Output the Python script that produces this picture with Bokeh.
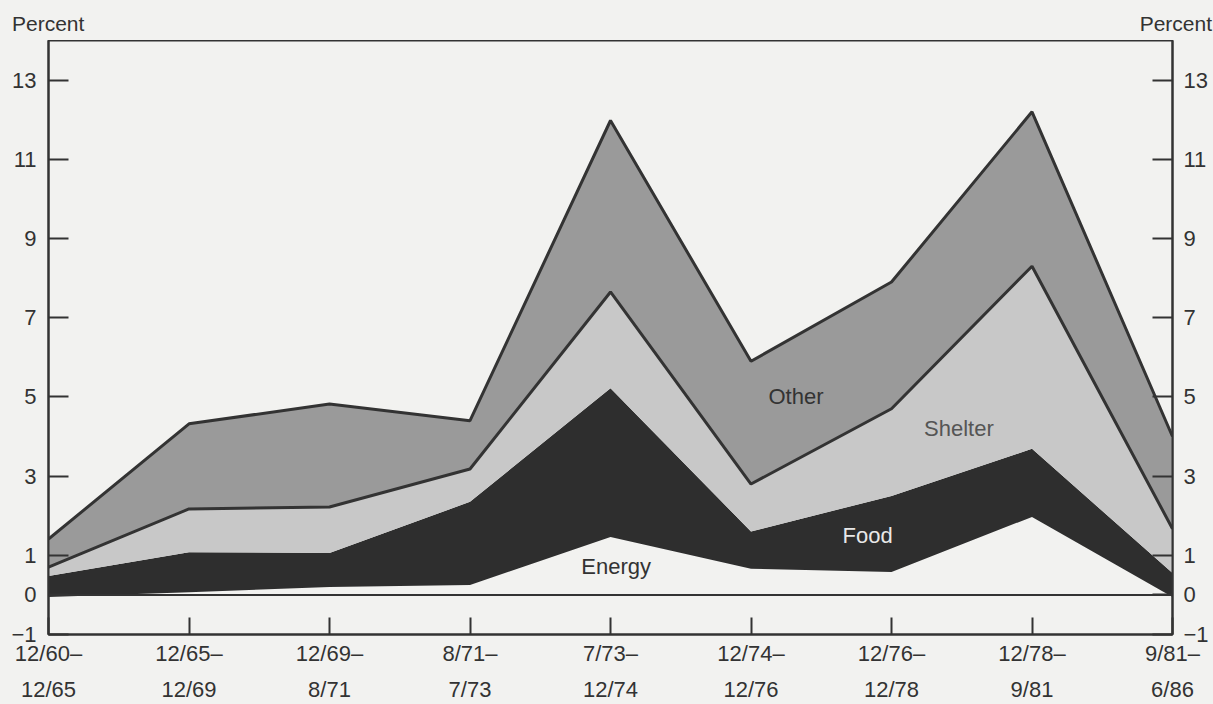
from bokeh.plotting import figure
from bokeh.layouts import column
from bokeh.models import Range1d, FixedTicker, LinearAxis, Label, Span, Div
from bokeh.embed import file_html
from bokeh.resources import INLINE
import numpy as np

# ---- data (contributions, percentage points) ----
period_start = ["12/60–", "12/65–", "12/69–", "8/71–", "7/73–", "12/74–", "12/76–", "12/78–", "9/81–"]
period_end = ["12/65", "12/69", "8/71", "7/73", "12/74", "12/76", "12/78", "9/81", "6/86"]
energy = [-0.05, 0.07, 0.20, 0.25, 1.46, 0.66, 0.58, 1.97, -0.05]
food = [0.53, 1.01, 0.86, 2.10, 3.76, 0.94, 1.92, 1.72, 0.60]
shelter = [0.22, 1.09, 1.16, 0.83, 2.43, 1.20, 2.20, 4.61, 1.12]
other = [0.71, 2.15, 2.60, 1.22, 4.33, 3.10, 3.20, 3.90, 2.33]
y_ticks = [-1, 0, 1, 3, 5, 7, 9, 11, 13]
y_tick_labels = ["−1", "0", "1", "3", "5", "7", "9", "11", "13"]
unit_label = "Percent"

BG = "#f2f2f0"
DARK = "#333333"
OTHER_C = "#9a9a9a"
SHELTER_C = "#c8c8c8"
FOOD_C = "#2e2e2e"
FONT = "Liberation Sans"
W, H, TOP_H = 1213, 704, 40

x = list(range(len(period_start)))
e_top = np.array(energy)
f_top = e_top + np.array(food)
s_top = f_top + np.array(shelter)
o_top = s_top + np.array(other)

# ---- header strip with the unit labels ----
span_style = ("position:absolute;top:14px;line-height:20px;font-size:21px;"
              "font-family:'Liberation Sans';color:%s;white-space:nowrap;" % DARK)
header = Div(
    text=('<div style="position:relative;width:%dpx;height:%dpx;background:%s;margin:0;">'
          '<span style="%sleft:12px;">%s</span>'
          '<span style="%sright:1px;">%s</span></div>')
    % (W, TOP_H, BG, span_style, unit_label, span_style, unit_label),
    width=W, height=TOP_H, margin=0,
    styles={"background-color": BG})

# ---- main chart ----
p = figure(width=W, height=H - TOP_H,
           x_range=Range1d(0, len(x) - 1), y_range=Range1d(-1, 14),
           output_backend="svg", toolbar_location=None,
           min_border_left=48, min_border_right=41, min_border_top=0, min_border_bottom=68,
           background_fill_color=BG, border_fill_color=BG,
           outline_line_color=DARK, outline_line_width=2, margin=0)
p.grid.visible = False

p.varea(x=x, y1=e_top, y2=f_top, fill_color=FOOD_C)
p.varea(x=x, y1=f_top, y2=s_top, fill_color=SHELTER_C)
p.varea(x=x, y1=s_top, y2=o_top, fill_color=OTHER_C)
p.line(x=x, y=s_top, line_color=DARK, line_width=3)
p.line(x=x, y=o_top, line_color=DARK, line_width=3)
p.add_layout(Span(location=0, dimension="width", line_color=DARK, line_width=2))

# x axes (two lines of labels)
xa = p.xaxis[0]
xa.ticker = FixedTicker(ticks=x)
xa.major_label_overrides = {i: s for i, s in zip(x, period_start)}
xa.major_tick_in = 17
xa.major_tick_out = 0
xa.minor_tick_line_color = None
xa.axis_line_color = DARK
xa.axis_line_width = 2
xa.major_tick_line_color = DARK
xa.major_tick_line_width = 2
xa.major_label_standoff = 6
xa.major_label_text_font = FONT
xa.major_label_text_font_size = "22px"
xa.major_label_text_color = DARK

xa2 = LinearAxis(ticker=FixedTicker(ticks=x),
                 major_label_overrides={i: s for i, s in zip(x, period_end)},
                 axis_line_color=None, major_tick_line_color=None, minor_tick_line_color=None,
                 major_tick_in=0, major_tick_out=0, major_label_standoff=8,
                 major_label_text_font=FONT, major_label_text_font_size="22px",
                 major_label_text_color=DARK)
p.add_layout(xa2, "below")

# y axes (left and right)
ya = p.yaxis[0]
ya.ticker = FixedTicker(ticks=y_ticks)
ya.major_label_overrides = {t: s for t, s in zip(y_ticks, y_tick_labels)}
ya.major_tick_in = 20
ya.major_tick_out = 0
ya.minor_tick_line_color = None
ya.axis_line_color = DARK
ya.axis_line_width = 2
ya.major_tick_line_color = DARK
ya.major_tick_line_width = 2
ya.major_label_standoff = 12
ya.major_label_text_font = FONT
ya.major_label_text_font_size = "22px"
ya.major_label_text_color = DARK

ya2 = LinearAxis(ticker=FixedTicker(ticks=y_ticks),
                 major_label_overrides={t: s for t, s in zip(y_ticks, y_tick_labels)},
                 axis_line_color=DARK, axis_line_width=2,
                 major_tick_line_color=DARK, major_tick_line_width=2, minor_tick_line_color=None,
                 major_tick_in=20, major_tick_out=0, major_label_standoff=11,
                 major_label_text_font=FONT, major_label_text_font_size="22px",
                 major_label_text_color=DARK)
p.add_layout(ya2, "right")

# series labels
labels = [("Other", 5.32, 5.0, DARK), ("Shelter", 6.48, 4.19, "#555555"),
          ("Food", 5.83, 1.49, "#e8e8e8"), ("Energy", 4.04, 0.72, DARK)]
for t, lx, ly, c in labels:
    p.add_layout(Label(x=lx, y=ly, text=t, text_align="center", text_baseline="middle",
                       text_font=FONT, text_font_size="22px", text_color=c))

layout = column(header, p, spacing=0, margin=0, styles={"background-color": BG})
open("out.html", "w").write(file_html(layout, INLINE))
